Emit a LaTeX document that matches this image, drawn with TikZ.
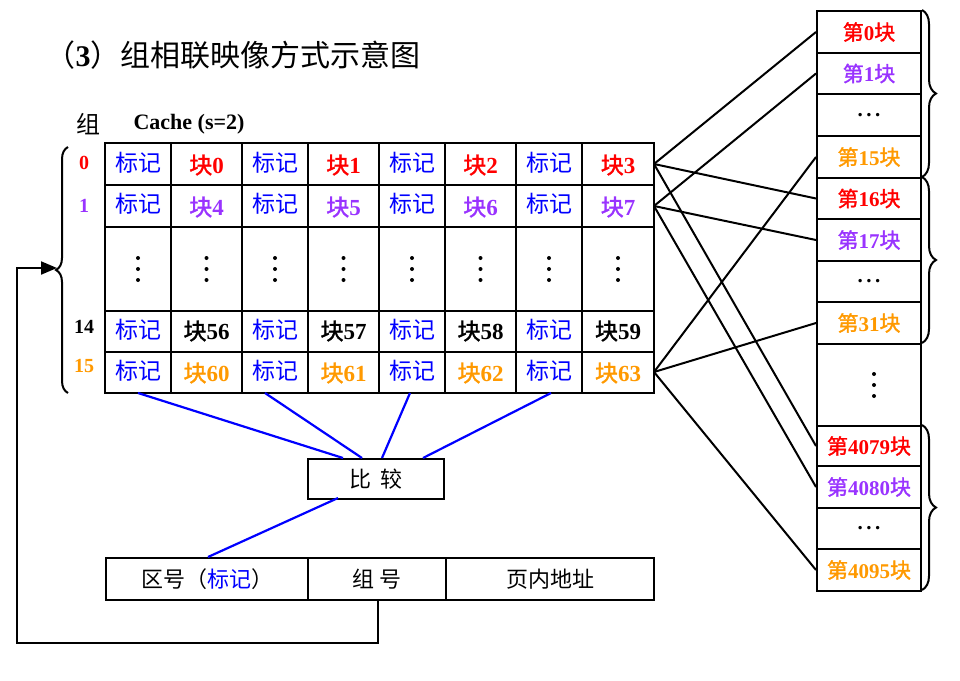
\documentclass[tikz,border=0pt]{standalone}
\usepackage{fontspec}
\setmainfont{Liberation Serif}
\newfontfamily\cjk[AutoFakeBold=1.5]{Noto Sans CJK SC}
\usetikzlibrary{decorations.pathreplacing,arrows.meta}
\definecolor{pur}{HTML}{9933FF}
\definecolor{org}{HTML}{FF9900}
\newcommand{\kuai}[1]{{\cjk\bfseries 块}\textbf{#1}}
\newcommand{\di}[1]{{\cjk\bfseries 第}\textbf{#1}{\cjk\bfseries 块}}
\newcommand{\hdots}{\textbf{.\,.\,.}}
\begin{document}
\begin{tikzpicture}[x=1pt,y=-1pt,
  cell/.style={draw,line width=2pt,minimum width=#1,minimum height=41pt,inner sep=0pt,anchor=north west,font=\fontsize{22}{24}\selectfont\cjk},
  cell/.default=66pt,
  lbl/.style={font=\fontsize{23}{24}\selectfont\bfseries},
  tagt/.style={text=blue,font=\fontsize{23}{24}\selectfont\cjk},
  bl/.style={blue,line width=2.2pt},
  ln/.style={line width=2pt},
  br/.style={decorate,decoration={brace,amplitude=#1},line width=2pt},
  br/.default=14pt]
\useasboundingbox (0,0) rectangle (960,680);
\node[anchor=west,font=\fontsize{30}{32}\selectfont] (title) at (42,55) {{\cjk （}\textbf{3}{\cjk ）组相联映像方式示意图}};
\node[anchor=center,font=\fontsize{24}{24}\selectfont\cjk] (zu) at (88,124) {组};
\node[anchor=center,font=\fontsize{22}{24}\selectfont\bfseries] (cache) at (189,124) {Cache (s=2)};
% grid
\def\xs{{105,171,242,308,379,445,516,582,654}}
\def\ys{{143,185,227,311,352,393}}
\foreach \c in {0,...,7}{
  \pgfmathsetmacro{\xa}{\xs[\c]}\pgfmathsetmacro{\xb}{\xs[\c+1]}
  \foreach \r in {0,...,4}{
    \pgfmathsetmacro{\ya}{\ys[\r]}\pgfmathsetmacro{\yb}{\ys[\r+1]}
    \draw[line width=2pt] (\xa,\ya) rectangle (\xb,\yb);
  }
  \foreach \k in {0,1,2} \fill ({(\xa+\xb)/2},{258+\k*11}) circle (2pt);
}
\foreach \c in {0,1,2,3}{
  \pgfmathsetmacro{\xa}{\xs[2*\c]}\pgfmathsetmacro{\xb}{\xs[2*\c+1]}\pgfmathsetmacro{\xc}{\xs[2*\c+2]}
  \node[tagt] (t0\c) at ({(\xa+\xb)/2},163) {标记};
  \node[tagt] (t1\c) at ({(\xa+\xb)/2},204) {标记};
  \node[tagt] (t14\c) at ({(\xa+\xb)/2},330) {标记};
  \node[tagt] (t15\c) at ({(\xa+\xb)/2},371) {标记};
  \pgfmathtruncatemacro{\ba}{\c}\pgfmathtruncatemacro{\bb}{\c+4}\pgfmathtruncatemacro{\bc}{\c+56}\pgfmathtruncatemacro{\bd}{\c+60}
  \node[lbl,red] (b0\c) at ({(\xb+\xc)/2},165) {\kuai{\ba}};
  \node[lbl,pur] (b1\c) at ({(\xb+\xc)/2},207) {\kuai{\bb}};
  \node[lbl] (b14\c) at ({(\xb+\xc)/2},331) {\kuai{\bc}};
  \node[lbl,org] (b15\c) at ({(\xb+\xc)/2},373) {\kuai{\bd}};
}
\coordinate (r0) at (654,164);
\coordinate (r1) at (654,206);
\coordinate (r15) at (654,372);
\node[lbl,red,font=\fontsize{20}{22}\selectfont\bfseries] (n0) at (84,163) {0};
\node[lbl,pur,font=\fontsize{20}{22}\selectfont\bfseries] (n1) at (84,206) {1};
\node[lbl,font=\fontsize{20}{22}\selectfont\bfseries] (n14) at (84,327) {14};
\node[lbl,org,font=\fontsize{20}{22}\selectfont\bfseries] (n15) at (84,366) {15};
\draw[br=12pt] (68,393) -- (68,147);
% compare
\node[cell=136pt,minimum height=40pt,anchor=north west] (cmp) at (307,458) {比\ \ 较};
\coordinate (g0) at (138,393);\coordinate (g1) at (265,393);\coordinate (g2) at (410,393);\coordinate (g3) at (551,393);
\draw[bl] (g0) -- (343,458);
\draw[bl] (g1) -- (362,458);
\draw[bl] (g2) -- (382,458);
\draw[bl] (g3) -- (423,458);
% address
\node[cell=202pt,minimum height=42pt] (a1) at (105,557) {区号（{\color{blue}标记}）};
\node[cell=138pt,minimum height=42pt] (a2) at (307,557) {组\ 号};
\node[cell=208pt,minimum height=42pt] (a3) at (445,557) {页内地址};
\draw[bl] (338,498) -- (208,557);
\draw[ln,-{Triangle[length=16pt,width=13pt]}] (378,599) -- (378,643) -- (17,643) -- (17,268) -- (57,268);
% memory
\def\my{{10,52,93,135,177,218,260,301,343,425,465,507,548,590}}
\foreach \i/\t in {0/{\color{red}\di{0}},1/{\color{pur}\di{1}},2/{\hdots},3/{\color{org}\di{15}},4/{\color{red}\di{16}},5/{\color{pur}\di{17}},6/{\hdots},7/{\color{org}\di{31}},8/{},9/{\color{red}\di{4079}},10/{\color{pur}\di{4080}},11/{\hdots},12/{\color{org}\di{4095}}}{
  \pgfmathsetmacro{\ya}{\my[\i]}\pgfmathsetmacro{\yb}{\my[\i+1]}
  \node[draw,line width=2pt,minimum width=104pt,minimum height={\yb-\ya},inner sep=0pt,anchor=north west,font=\fontsize{21}{22}\selectfont] (m\i) at (816,\ya) {\t};
}
\foreach \k in {-1,0,1} \fill ([yshift=\k*11]m8.center) ++(5,0) circle (2pt);
\draw[br] (922,10) -- (922,177);
\draw[br] (922,177) -- (922,343);
\draw[br] (922,425) -- (922,590);
\foreach \s/\a/\b/\c in {r0/0/4/9,r1/1/5/10,r15/3/7/12}{
  \draw[ln] (\s) -- (m\a.west);
  \draw[ln] (\s) -- (m\b.west);
  \draw[ln] (\s) -- (m\c.west);
}
\end{tikzpicture}
\end{document}
